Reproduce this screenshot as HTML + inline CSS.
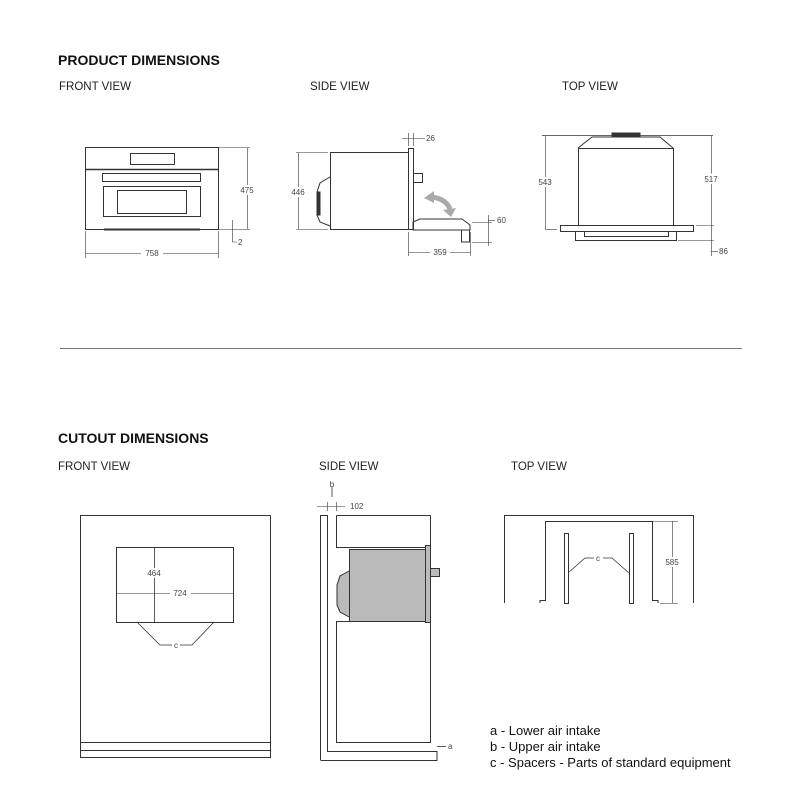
<!DOCTYPE html>
<html><head><style>body{margin:0;background:#fff}svg{display:block}</style></head><body>
<svg width="800" height="800" viewBox="0 0 800 800" xmlns="http://www.w3.org/2000/svg" font-family="Liberation Sans, sans-serif">
<g font-size="14" font-weight="bold" fill="#111"><text x="58" y="65">PRODUCT DIMENSIONS</text><text x="58" y="443">CUTOUT DIMENSIONS</text></g>
<g font-size="11.5" fill="#222"><text x="59" y="90">FRONT VIEW</text><text x="310" y="90">SIDE VIEW</text><text x="562" y="90">TOP VIEW</text>
<text x="58" y="470">FRONT VIEW</text><text x="319" y="470">SIDE VIEW</text><text x="511" y="470">TOP VIEW</text></g>
<g fill="none" stroke="#333" stroke-width="1">
<!-- front product -->
<rect x="85.5" y="147.5" width="133" height="82"/><line x1="86" y1="169.5" x2="218" y2="169.5" stroke-width="1.5"/>
<rect x="130.5" y="153.5" width="44" height="11"/><rect x="102.5" y="173.5" width="98" height="8"/>
<rect x="103.5" y="186.5" width="97" height="30"/><rect x="117.5" y="190.5" width="69" height="23"/>
<line x1="104" y1="229.5" x2="200" y2="229.5" stroke-width="2"/>
<line x1="219" y1="147.5" x2="250" y2="147.5" stroke-width=".6"/><line x1="219" y1="229.5" x2="250" y2="229.5" stroke-width=".6"/>
<line x1="247.5" y1="148" x2="247.5" y2="229" stroke-width=".6"/>
<line x1="85.5" y1="231" x2="85.5" y2="258" stroke-width=".6"/><line x1="218.5" y1="231" x2="218.5" y2="258" stroke-width=".6"/>
<line x1="86" y1="253.5" x2="141" y2="253.5" stroke-width=".6"/><line x1="163" y1="253.5" x2="218" y2="253.5" stroke-width=".6"/>
<polyline points="232.5,220 232.5,242 237,242" stroke-width=".6"/>
<!-- side product -->
<rect x="330.5" y="152.5" width="78" height="77"/><rect x="408.5" y="148.5" width="5" height="81"/>
<rect x="413.5" y="173.5" width="9" height="9"/>
<path d="M330 177 L320 183 L317 192 L317 215 L320 222 L330 226"/><rect x="317" y="192" width="3" height="23" fill="#333"/>
<path d="M413 230 L413 222 L420 219 L462 219 L470 225 L470 230 Z"/><rect x="461.5" y="230" width="8" height="12"/>
<line x1="296" y1="152.5" x2="328" y2="152.5" stroke-width=".6"/><line x1="296" y1="229.5" x2="328" y2="229.5" stroke-width=".6"/>
<line x1="298.5" y1="153" x2="298.5" y2="229" stroke-width=".6"/>
<line x1="408.5" y1="133" x2="408.5" y2="146" stroke-width=".6"/><line x1="413.5" y1="133" x2="413.5" y2="146" stroke-width=".6"/><line x1="402" y1="138.5" x2="425" y2="138.5" stroke-width=".6"/>
<line x1="408.5" y1="232" x2="408.5" y2="256" stroke-width=".6"/><line x1="470.5" y1="232" x2="470.5" y2="256" stroke-width=".6"/>
<line x1="409" y1="252.5" x2="430" y2="252.5" stroke-width=".6"/><line x1="450" y1="252.5" x2="470" y2="252.5" stroke-width=".6"/>
<line x1="488.5" y1="215" x2="488.5" y2="246" stroke-width=".6"/><line x1="472" y1="222.5" x2="492" y2="222.5" stroke-width=".6"/><line x1="472" y1="242.5" x2="492" y2="242.5" stroke-width=".6"/><line x1="488" y1="220.5" x2="495" y2="220.5" stroke-width=".6"/>
<path d="M432 197 Q446 199 450 209" stroke="#aaa" stroke-width="5"/>
<path d="M424 198 L434 191 L434 203 Z M443 210 L456 208 L451 217 Z" fill="#aaa" stroke="none"/>
<!-- top product -->
<line x1="542" y1="135.5" x2="713" y2="135.5" stroke-width=".8"/>
<path d="M578 148 L592 137 L660 137 L673 148"/><rect x="612" y="133" width="28" height="4" fill="#333"/>
<rect x="578.5" y="148.5" width="95" height="77"/><rect x="560.5" y="225.5" width="133" height="6"/>
<rect x="575.5" y="231.5" width="101" height="9"/><polyline points="584.5,231 584.5,236.5 668.5,236.5 668.5,231"/>
<line x1="545.5" y1="136" x2="545.5" y2="229" stroke-width=".6"/><line x1="545" y1="229.5" x2="557" y2="229.5" stroke-width=".6"/>
<line x1="711.5" y1="136" x2="711.5" y2="256" stroke-width=".6"/><line x1="696" y1="225.5" x2="714" y2="225.5" stroke-width=".6"/><line x1="678" y1="240.5" x2="714" y2="240.5" stroke-width=".6"/><line x1="711" y1="251.5" x2="718" y2="251.5" stroke-width=".6"/>
<line x1="60" y1="348.5" x2="742" y2="348.5" stroke="#777"/>
<!-- cutout front -->
<rect x="80.5" y="515.5" width="190" height="242"/><line x1="81" y1="742.5" x2="270" y2="742.5"/><line x1="81" y1="750.5" x2="270" y2="750.5"/>
<rect x="116.5" y="547.5" width="117" height="75"/>
<line x1="154.5" y1="548" x2="154.5" y2="622" stroke-width=".8"/><line x1="117" y1="593.5" x2="170" y2="593.5" stroke-width=".6"/><line x1="191" y1="593.5" x2="233" y2="593.5" stroke-width=".6"/>
<polyline points="137,622 160,645 172,645" stroke-width=".8"/><polyline points="180,645 192,645 214,622" stroke-width=".8"/>
<!-- cutout side -->
<polyline points="320.5,760 320.5,515.5 327.5,515.5 327.5,751.5 437,751.5 437,760.5 320.5,760.5"/>
<polyline points="336.5,515.5 430.5,515.5 430.5,742.5 336.5,742.5 336.5,621.5 430,621.5"/><polyline points="336.5,515.5 336.5,547.5 430,547.5"/>
<rect x="349.5" y="549.5" width="78" height="72" fill="#bbb"/><rect x="425.5" y="545.5" width="5" height="77" fill="#bbb"/>
<rect x="430.5" y="568.5" width="9" height="8" fill="#bbb"/>
<path d="M349 571 L340 576 L337 585 L337 605 L340 612 L349 617" fill="#bbb"/>
<line x1="317" y1="506.5" x2="345" y2="506.5" stroke-width=".6"/><line x1="327.5" y1="502" x2="327.5" y2="511" stroke-width=".6"/><line x1="336.5" y1="502" x2="336.5" y2="511" stroke-width=".6"/>
<line x1="332" y1="487" x2="332" y2="497" stroke-width=".8"/><line x1="437" y1="746.5" x2="446" y2="746.5" stroke-width=".8"/>
<!-- cutout top -->
<polyline points="504.5,603 504.5,515.5 693.5,515.5 693.5,603"/>
<polyline points="540,603 540,600.5 545.5,600.5 545.5,521.5 652.5,521.5 652.5,600.5 658,600.5 658,603"/>
<rect x="564.5" y="533.5" width="4" height="70"/><rect x="629.5" y="533.5" width="4" height="70"/>
<polyline points="568,573 585,558 594,558" stroke-width=".8"/><polyline points="603,558 612,558 629,573" stroke-width=".8"/>
<line x1="672.5" y1="521" x2="672.5" y2="603" stroke-width=".6"/><line x1="653" y1="521.5" x2="678" y2="521.5" stroke-width=".6"/><line x1="660" y1="603.5" x2="678" y2="603.5" stroke-width=".6"/>
</g>
<g font-size="8" fill="#444">
<text x="247" y="193" text-anchor="middle" fill="#fff" stroke="#fff" stroke-width="4">475</text><text x="247" y="193" text-anchor="middle">475</text>
<text x="152" y="256" text-anchor="middle">758</text><text x="238" y="245">2</text>
<text x="298" y="195" text-anchor="middle" fill="#fff" stroke="#fff" stroke-width="4">446</text><text x="298" y="195" text-anchor="middle">446</text>
<text x="426" y="141">26</text><text x="440" y="255" text-anchor="middle">359</text><text x="497" y="223">60</text>
<text x="545" y="185" text-anchor="middle" fill="#fff" stroke="#fff" stroke-width="4">543</text><text x="545" y="185" text-anchor="middle">543</text>
<text x="711" y="182" text-anchor="middle" fill="#fff" stroke="#fff" stroke-width="4">517</text><text x="711" y="182" text-anchor="middle">517</text>
<text x="719" y="254">86</text>
<text x="154" y="576" text-anchor="middle" fill="#fff" stroke="#fff" stroke-width="4">464</text><text x="154" y="576" text-anchor="middle">464</text>
<text x="180" y="596" text-anchor="middle">724</text><text x="176" y="648" text-anchor="middle">c</text>
<text x="350" y="509">102</text><text x="332" y="487" text-anchor="middle">b</text><text x="448" y="749">a</text>
<text x="598" y="561" text-anchor="middle">c</text>
<text x="672" y="565" text-anchor="middle" fill="#fff" stroke="#fff" stroke-width="4">585</text><text x="672" y="565" text-anchor="middle">585</text>
</g>
<g font-size="13" fill="#111"><text x="490" y="735">a - Lower air intake</text><text x="490" y="751">b - Upper air intake</text><text x="490" y="767">c - Spacers - Parts of standard equipment</text></g>
</svg>
</body></html>
